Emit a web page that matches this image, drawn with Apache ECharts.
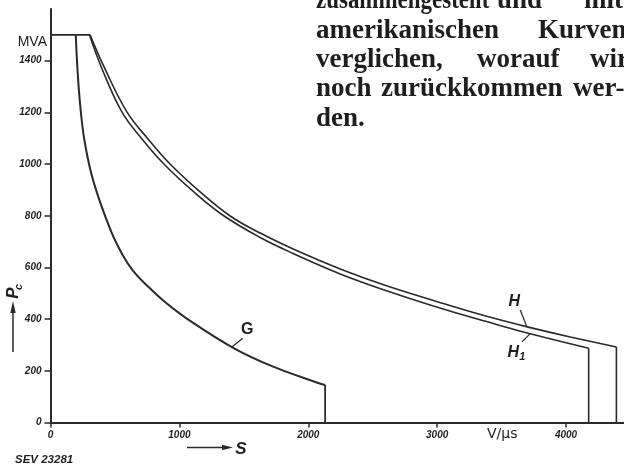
<!DOCTYPE html>
<html><head><meta charset="utf-8">
<script src="https://cdn.jsdelivr.net/npm/echarts@6/dist/echarts.min.js"></script>
<style>html,body{margin:0;padding:0;background:#fff}#c{width:624px;height:467px}</style>
</head><body><div id="c"></div>
<script>
// ---- data ----
const yTicks = [0, 200, 400, 600, 800, 1000, 1200, 1400];
const xTicks = [0, 1000, 2000, 3000, 4000];
const flatP = 1500;               // MVA, common flat top
const flatStartS = 0;
// curve G
const gS = [196, 210, 231, 264, 332, 468, 563, 641, 757, 898, 1052, 1421, 1728, 2077, 2131];
const gP = [1500, 1361, 1225, 1090, 935, 742, 645, 587, 526, 462, 404, 288, 216, 153, 145];
// curve H (outer)
const hS = [307, 423, 594, 757, 928, 1161, 1394, 1627, 1883, 2248, 2613, 3086, 3436, 3700, 4033, 4391];
const hP = [1500, 1368, 1201, 1097, 1000, 892, 799, 733, 671, 594, 528, 455, 404, 370, 331, 292];
// curve H1 (inner)
const h1S = [302, 400, 555, 710, 880, 1112, 1347, 1627, 1883, 2248, 2613, 3086, 3436, 3700, 4176];
const h1P = [1500, 1368, 1201, 1097, 1000, 892, 799, 716, 654, 575, 509, 433, 383, 346, 287];

const LINE = '#2a2a2a';
const TXT = '#1e1e1e';
const pts = (s, p) => s.map((v, i) => [v, p[i]]);
const last = a => a[a.length - 1];

const chart = echarts.init(document.getElementById('c'));
const curve = (name, s, p, w) => ({
  name, type: 'line', data: pts(s, p), smooth: 0.4,
  symbol: 'none', lineStyle: { color: LINE, width: w }, z: 3
});
const straight = (data, w) => ({
  type: 'line', data, symbol: 'none', lineStyle: { color: LINE, width: w }, z: 3
});
const numFmt = v => String(v);

chart.setOption({
  animation: false,
  backgroundColor: '#fff',
  grid: { left: 50.5, right: 0, top: 9, bottom: 44.5 },
  xAxis: {
    type: 'value', min: 0, max: 4450, interval: 1000,
    axisLine: { show: true, onZero: false, lineStyle: { color: LINE, width: 2 } },
    axisTick: { show: true, length: 5, customValues: xTicks, lineStyle: { color: LINE, width: 1.5 } },
    axisLabel: { customValues: xTicks, formatter: numFmt, margin: 8, fontSize: 10, fontStyle: 'italic', fontWeight: 'bold',
      fontFamily: 'Liberation Sans', color: TXT },
    splitLine: { show: false }
  },
  yAxis: {
    type: 'value', min: 0, max: 1600, interval: 200,
    axisLine: { show: true, onZero: false, lineStyle: { color: LINE, width: 2 } },
    axisTick: { show: true, length: 6, customValues: yTicks, lineStyle: { color: LINE, width: 1.5 } },
    axisLabel: { customValues: yTicks, formatter: numFmt, margin: 9, fontSize: 10, fontStyle: 'italic', fontWeight: 'bold',
      fontFamily: 'Liberation Sans', color: TXT },
    splitLine: { show: false }
  },
  series: [
    straight([[flatStartS, flatP], [hS[0], flatP]], 1.8),
    curve('G', gS, gP, 2),
    straight([[last(gS), last(gP)], [last(gS), 0]], 1.8),
    curve('H', hS, hP, 1.6),
    straight([[last(hS), last(hP)], [last(hS), 0]], 1.6),
    curve('H1', h1S, h1P, 1.6),
    straight([[last(h1S), last(h1P)], [last(h1S), 0]], 1.6)
  ]
});

// ---- annotations (anchored in data space) ----
const px = (s, p) => chart.convertToPixel({ gridIndex: 0 }, [s, p]);
const ann = {
  G:  { at: [1526, 360], lead: [[1407, 292], [1492, 326]] },
  H:  { at: [3599, 466], lead: [[3645, 435], [3697, 370]] },
  H1: { at: [3591, 269], lead: [[3658, 312], [3723, 344]] }
};
const g = [];
const leader = (a) => {
  const p0 = px(...a[0]), p1 = px(...a[1]);
  g.push({ type: 'line', shape: { x1: p0[0], y1: p0[1], x2: p1[0], y2: p1[1] },
    style: { stroke: LINE, lineWidth: 1.3 } });
};
let p = px(...ann.G.at);
g.push({ type: 'text', x: p[0], y: p[1], style: { text: 'G', font: 'bold 16px "Liberation Sans"', fill: TXT, align: 'center', verticalAlign: 'middle' } });
leader(ann.G.lead);
p = px(...ann.H.at);
g.push({ type: 'text', x: p[0], y: p[1], style: { text: 'H', font: 'italic bold 16px "Liberation Sans"', fill: TXT, align: 'center', verticalAlign: 'middle' } });
leader(ann.H.lead);
p = px(...ann.H1.at);
g.push({ type: 'text', x: p[0], y: p[1], style: { text: 'H', font: 'italic bold 16px "Liberation Sans"', fill: TXT, align: 'center', verticalAlign: 'middle' } });
g.push({ type: 'text', x: p[0] + 9, y: p[1] + 4, style: { text: '1', font: 'italic bold 11px "Liberation Sans"', fill: TXT, align: 'center', verticalAlign: 'middle' } });
leader(ann.H1.lead);

// fixed texts
g.push({ type: 'text', x: 47, y: 42, style: { text: 'MVA', font: '14px "Liberation Sans Narrow", "Liberation Sans"', fill: TXT, align: 'right', verticalAlign: 'middle' } });
g.push({ type: 'text', x: 487, y: 434, style: { text: 'V/µs', font: '14px "DejaVu Sans"', fill: TXT, align: 'left', verticalAlign: 'middle' } });
g.push({ type: 'text', x: 15, y: 460, style: { text: 'SEV 23281', font: 'italic bold 11.5px "Liberation Sans"', fill: TXT, align: 'left', verticalAlign: 'middle' } });
// S arrow
g.push({ type: 'line', shape: { x1: 187, y1: 447.5, x2: 224, y2: 447.5 }, style: { stroke: LINE, lineWidth: 1.5 } });
g.push({ type: 'polygon', shape: { points: [[233, 447.5], [222, 444.8], [222, 450.2]] }, style: { fill: LINE } });
g.push({ type: 'text', x: 241, y: 449, style: { text: 'S', font: 'italic bold 17px "Liberation Sans"', fill: TXT, align: 'center', verticalAlign: 'middle' } });
// Pc arrow
g.push({ type: 'line', shape: { x1: 13, y1: 352, x2: 13, y2: 311 }, style: { stroke: LINE, lineWidth: 1.5 } });
g.push({ type: 'polygon', shape: { points: [[13, 301], [10.3, 313], [15.7, 313]] }, style: { fill: LINE } });
g.push({ type: 'group', x: 13, y: 293, rotation: Math.PI / 2, children: [
  { type: 'text', x: 0, y: 0, style: { text: 'P', font: 'italic bold 17px "Liberation Sans"', fill: TXT, align: 'center', verticalAlign: 'middle' } },
  { type: 'text', x: 6, y: 6, style: { text: 'c', font: 'italic bold 11px "Liberation Sans"', fill: TXT, align: 'center', verticalAlign: 'middle' } }
] });

// body text at top right (justified lines as separate words)
const SERIF = 'bold 27px "Liberation Serif"';
const words = [
  ['zusammengestellt', 316, 10.5, 0.85], ['und', 497, 10.5, 1], ['mit', 584, 10.5, 1],
  ['amerikanischen', 316, 40, 1], ['Kurven', 538, 40, 1],
  ['verglichen,', 316, 69.5, 1], ['worauf', 477, 69.5, 1], ['wir', 590, 69.5, 1],
  ['noch', 316, 98.5, 1], ['zurückkommen', 381, 98.5, 1], ['wer-', 573, 98.5, 1],
  ['den.', 316, 128, 1]
];
words.forEach(w => g.push({ type: 'text', x: w[1], y: w[2] - 9, scaleX: w[3],
  style: { text: w[0], font: SERIF, fill: TXT, align: 'left', verticalAlign: 'middle' } }));

chart.setOption({ graphic: { elements: g } });
</script></body></html>
